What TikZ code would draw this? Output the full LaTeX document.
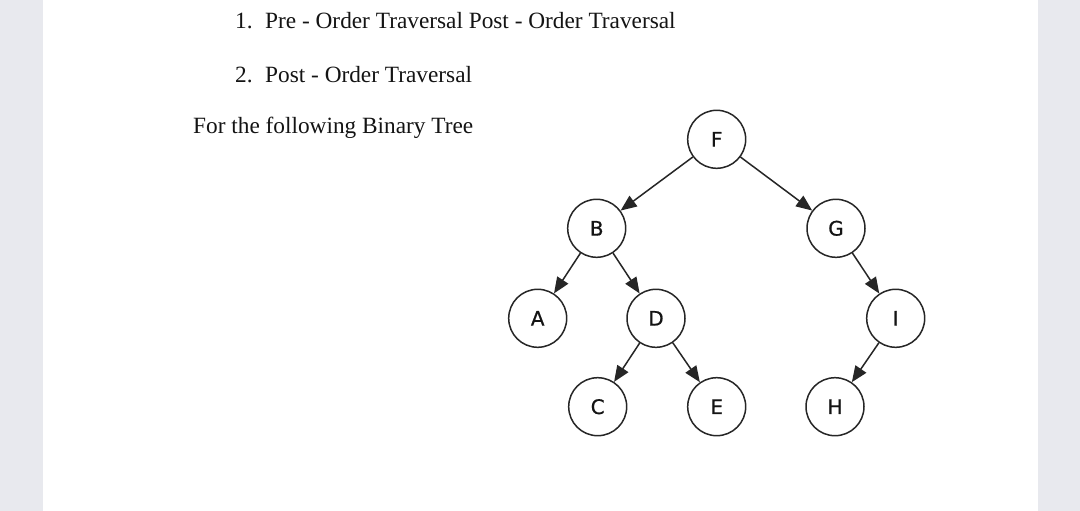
\documentclass[tikz,border=0pt]{standalone}
\usepackage{fontspec}
\setmainfont{Liberation Serif}
\newfontfamily\nodefont[FakeBold=0.8]{DejaVu Sans}
\usetikzlibrary{arrows.meta}
\definecolor{panel}{HTML}{E8E9EE}
\definecolor{ink}{HTML}{141414}
\definecolor{edgecol}{HTML}{262626}
\tikzset{
  tnode/.style={circle, draw=edgecol, line width=1.5pt, fill=white, minimum size=58pt, inner sep=0pt, font=\nodefont\fontsize{20}{20}\selectfont, text=ink},
  tedge/.style={draw=edgecol, line width=1.5pt, -{Triangle[length=16pt,width=13pt]}},
  txt/.style={anchor=base west, inner sep=0pt, font=\fontsize{23.3}{26}\selectfont, text=ink}
}
\begin{document}
\begin{tikzpicture}[x=1pt,y=-1pt]
\useasboundingbox (0,0) rectangle (1080,511);
\fill[panel] (0,0) rectangle (43,511);
\fill[panel] (1038,0) rectangle (1080,511);
\fill[white] (43,0) rectangle (1038,511);
\node[txt] (n1) at (235,29) {1.};
\node[txt] (t1) at (265,29) {Pre - Order Traversal Post - Order Traversal};
\node[txt] (n2) at (235,83) {2.};
\node[txt] (t2) at (265,83) {Post - Order Traversal};
\node[txt] (t3) at (193,133) {For the following Binary Tree};
\node[tnode] (F) at (716.7,139.3) {F};
\node[tnode] (B) at (596.7,228.3) {B};
\node[tnode] (G) at (836,228.3) {G};
\node[tnode] (A) at (537.7,318.3) {A};
\node[tnode] (D) at (656,318.3) {D};
\node[tnode] (I) at (895.7,318.3) {I};
\node[tnode] (C) at (597.7,406.7) {C};
\node[tnode] (E) at (716.7,406.7) {E};
\node[tnode] (H) at (835,406.7) {H};
\draw[tedge] (F) -- (B);
\draw[tedge] (F) -- (G);
\draw[tedge] (B) -- (A);
\draw[tedge] (B) -- (D);
\draw[tedge] (D) -- (C);
\draw[tedge] (D) -- (E);
\draw[tedge] (G) -- (I);
\draw[tedge] (I) -- (H);
\end{tikzpicture}
\end{document}
